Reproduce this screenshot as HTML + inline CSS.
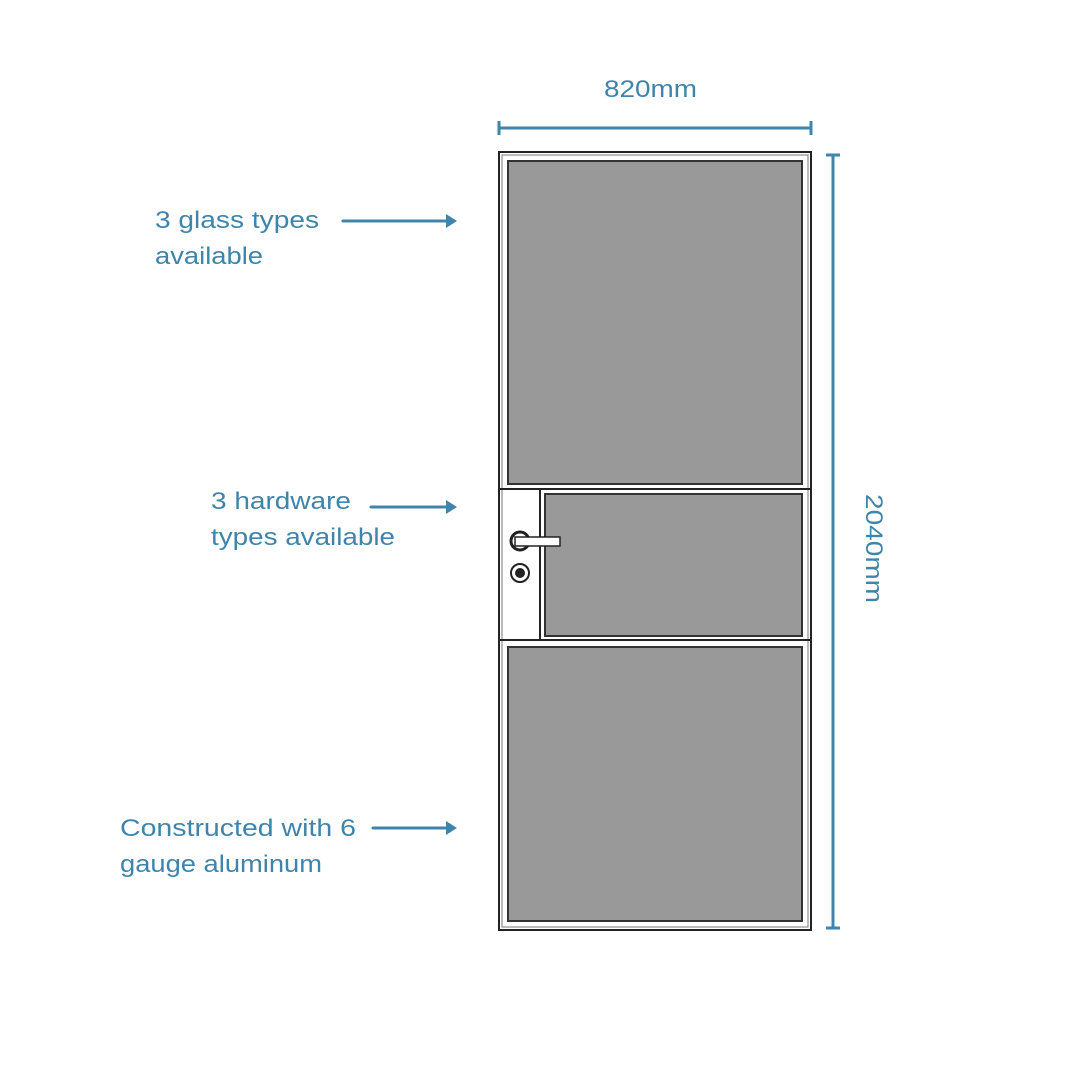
<!DOCTYPE html>
<html><head><style>
body{margin:0;background:#fff;}
svg{display:block}
text{font-family:"Liberation Sans",sans-serif;fill:#3f84ab;font-size:24px}
</style></head><body>
<svg width="1080" height="1080" viewBox="0 0 1080 1080">
<g stroke="#3f84ab" stroke-width="3" fill="#3f84ab">
<line x1="499" y1="128" x2="811" y2="128"/>
<line x1="499" y1="121" x2="499" y2="135"/>
<line x1="811" y1="121" x2="811" y2="135"/>
<line x1="833" y1="155" x2="833" y2="928"/>
<line x1="826" y1="155" x2="840" y2="155"/>
<line x1="826" y1="928" x2="840" y2="928"/>
<line x1="343" y1="221" x2="447" y2="221" stroke-linecap="round"/>
<line x1="371" y1="507" x2="447" y2="507" stroke-linecap="round"/>
<line x1="373" y1="828" x2="447" y2="828" stroke-linecap="round"/>
</g>
<g fill="#3f84ab">
<polygon points="446,214 457,221 446,228"/>
<polygon points="446,500 457,507 446,514"/>
<polygon points="446,821 457,828 446,835"/>
</g>
<text x="604" y="97" textLength="93" lengthAdjust="spacingAndGlyphs">820mm</text>
<text x="0" y="0" transform="translate(866,494) rotate(90)" textLength="109" lengthAdjust="spacingAndGlyphs">2040mm</text>
<text x="155" y="228" textLength="164" lengthAdjust="spacingAndGlyphs">3 glass types</text>
<text x="155" y="264" textLength="108" lengthAdjust="spacingAndGlyphs">available</text>
<text x="211" y="509" textLength="140" lengthAdjust="spacingAndGlyphs">3 hardware</text>
<text x="211" y="545" textLength="184" lengthAdjust="spacingAndGlyphs">types available</text>
<text x="120" y="836" textLength="236" lengthAdjust="spacingAndGlyphs">Constructed with 6</text>
<text x="120" y="872" textLength="202" lengthAdjust="spacingAndGlyphs">gauge aluminum</text>
<g fill="none" stroke="#222">
<rect x="499" y="152" width="312" height="778" stroke-width="2"/>
<rect x="502" y="155" width="306" height="772" stroke="#777" stroke-width="1"/>
<line x1="500" y1="489" x2="810" y2="489" stroke-width="2"/>
<line x1="500" y1="640" x2="810" y2="640" stroke-width="2"/>
<line x1="540" y1="489" x2="540" y2="640" stroke-width="2"/>
</g>
<g fill="#999" stroke="#333" stroke-width="2">
<rect x="508" y="161" width="294" height="323"/>
<rect x="545" y="494" width="257" height="142"/>
<rect x="508" y="647" width="294" height="274"/>
</g>
<circle cx="520" cy="541" r="9" fill="#fff" stroke="#222" stroke-width="3"/>
<rect x="515" y="537" width="45" height="9" fill="#fff" stroke="#222" stroke-width="1.5"/>
<circle cx="520" cy="573" r="9" fill="#fff" stroke="#222" stroke-width="2"/>
<circle cx="520" cy="573" r="5" fill="#222"/>
</svg>
</body></html>
